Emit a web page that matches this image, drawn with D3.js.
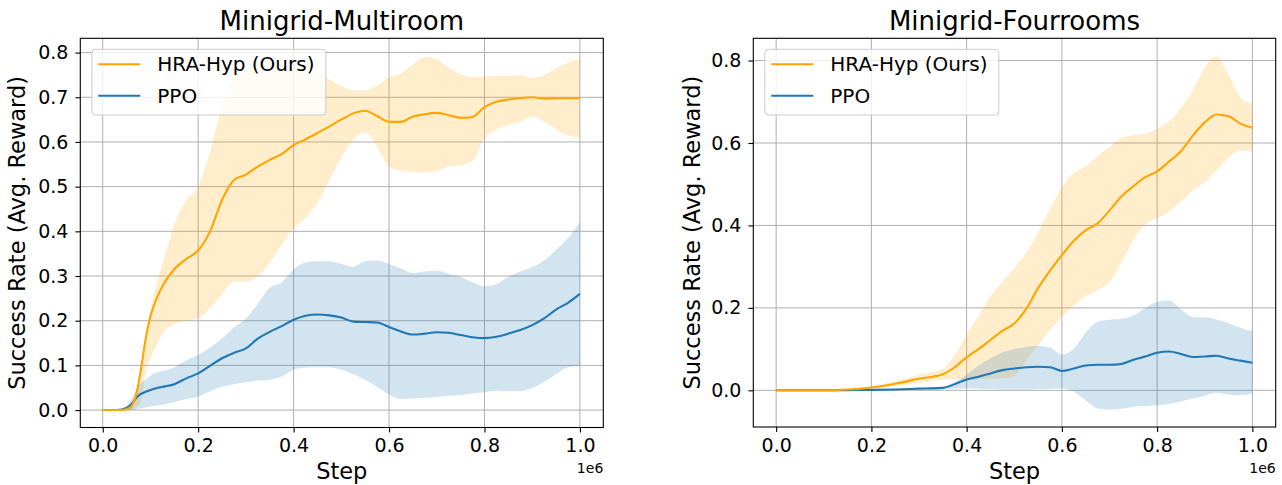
<!DOCTYPE html>
<html>
<head>
<meta charset="utf-8">
<script src="https://cdn.jsdelivr.net/npm/d3@7"></script>
<style>
  html, body { margin: 0; padding: 0; background: #fff; }
  svg { display: block; font-family: 'DejaVu Sans', sans-serif; }
</style>
</head>
<body>
<div id="chart"></div>
<script>
// Minigrid success-rate curves, two panels, mean line + shaded band

// --- Multiroom (left) ---
var stepsMR = [0, 0.03, 0.05, 0.06, 0.07, 0.08, 0.09, 0.1, 0.115, 0.13, 0.15, 0.175, 0.2, 0.225, 0.25, 0.275,
  0.3, 0.325, 0.35, 0.375, 0.4, 0.425, 0.45, 0.475, 0.5, 0.525, 0.55, 0.575, 0.6, 0.625, 0.65, 0.675,
  0.7, 0.725, 0.75, 0.775, 0.8, 0.825, 0.85, 0.875, 0.9, 0.925, 0.95, 0.975, 1.0];
var hraMeanMR = [0, 0, 0.002, 0.008, 0.035, 0.09, 0.16, 0.21, 0.255, 0.286, 0.315, 0.338, 0.357, 0.4, 0.47, 0.515,
  0.527, 0.545, 0.56, 0.573, 0.593, 0.606, 0.62, 0.635, 0.65, 0.664, 0.67, 0.658, 0.645, 0.645, 0.657, 0.662,
  0.665, 0.66, 0.654, 0.656, 0.678, 0.69, 0.695, 0.698, 0.7, 0.697, 0.698, 0.698, 0.698];
var hraHighMR = [0, 0, 0.003, 0.01, 0.037, 0.095, 0.17, 0.225, 0.29, 0.345, 0.415, 0.47, 0.5, 0.58, 0.68, 0.745,
  0.765, 0.768, 0.765, 0.765, 0.765, 0.76, 0.755, 0.74, 0.725, 0.716, 0.716, 0.726, 0.745, 0.754, 0.773, 0.79,
  0.785, 0.766, 0.752, 0.745, 0.746, 0.748, 0.748, 0.75, 0.743, 0.75, 0.765, 0.778, 0.787];
var hraLowMR = [0, 0, 0, 0, 0.005, 0.02, 0.085, 0.115, 0.15, 0.178, 0.193, 0.2, 0.205, 0.228, 0.26, 0.288,
  0.288, 0.3, 0.33, 0.37, 0.407, 0.43, 0.465, 0.515, 0.565, 0.605, 0.622, 0.59, 0.545, 0.535, 0.533, 0.532,
  0.535, 0.545, 0.548, 0.558, 0.608, 0.628, 0.638, 0.645, 0.657, 0.645, 0.628, 0.615, 0.608];
var ppoMeanMR = [0, 0, 0.005, 0.013, 0.027, 0.036, 0.041, 0.045, 0.05, 0.053, 0.058, 0.071, 0.082, 0.099, 0.116, 0.128,
  0.138, 0.16, 0.175, 0.188, 0.202, 0.211, 0.214, 0.212, 0.207, 0.198, 0.197, 0.196, 0.186, 0.176, 0.169, 0.171,
  0.174, 0.173, 0.168, 0.163, 0.161, 0.164, 0.171, 0.179, 0.19, 0.205, 0.225, 0.24, 0.26];
var ppoHighMR = [0, 0, 0.01, 0.025, 0.045, 0.06, 0.068, 0.077, 0.085, 0.088, 0.096, 0.111, 0.123, 0.14, 0.16, 0.185,
  0.205, 0.238, 0.274, 0.285, 0.315, 0.33, 0.333, 0.333, 0.327, 0.321, 0.333, 0.335, 0.327, 0.317, 0.307, 0.31,
  0.312, 0.305, 0.298, 0.286, 0.277, 0.282, 0.298, 0.31, 0.32, 0.335, 0.358, 0.385, 0.42];
var ppoLowMR = [0, 0, 0, 0, 0.002, 0.004, 0.006, 0.008, 0.01, 0.013, 0.018, 0.025, 0.03, 0.042, 0.052, 0.058,
  0.062, 0.066, 0.068, 0.075, 0.09, 0.095, 0.096, 0.096, 0.09, 0.08, 0.068, 0.052, 0.035, 0.025, 0.026, 0.027,
  0.03, 0.032, 0.034, 0.037, 0.04, 0.043, 0.042, 0.042, 0.05, 0.063, 0.08, 0.096, 0.098];

// --- Fourrooms (right) ---
var stepsFR = [0, 0.1, 0.15, 0.2, 0.25, 0.3, 0.35, 0.375, 0.4, 0.425, 0.45, 0.475, 0.5, 0.525, 0.55, 0.575,
  0.6, 0.625, 0.65, 0.675, 0.7, 0.725, 0.75, 0.775, 0.8, 0.825, 0.85, 0.875, 0.9, 0.925, 0.95, 0.975, 1.0];
var hraMeanFR = [0, 0, 0.002, 0.007, 0.016, 0.028, 0.039, 0.056, 0.08, 0.1, 0.122, 0.144, 0.162, 0.197, 0.248, 0.29,
  0.328, 0.363, 0.388, 0.405, 0.436, 0.47, 0.495, 0.517, 0.531, 0.555, 0.58, 0.618, 0.65, 0.669, 0.665, 0.647, 0.637];
var hraHighFR = [0, 0.001, 0.004, 0.009, 0.022, 0.038, 0.052, 0.085, 0.135, 0.18, 0.228, 0.263, 0.296, 0.333, 0.383, 0.44,
  0.492, 0.528, 0.543, 0.568, 0.59, 0.612, 0.619, 0.622, 0.635, 0.652, 0.684, 0.728, 0.783, 0.81, 0.765, 0.71, 0.695];
var hraLowFR = [0, 0, 0.001, 0.004, 0.01, 0.018, 0.026, 0.027, 0.026, 0.027, 0.028, 0.029, 0.035, 0.072, 0.11, 0.146,
  0.177, 0.205, 0.228, 0.244, 0.262, 0.31, 0.365, 0.403, 0.418, 0.434, 0.458, 0.485, 0.505, 0.533, 0.565, 0.582, 0.579];
var ppoMeanFR = [0, 0, 0.0005, 0.001, 0.002, 0.004, 0.006, 0.015, 0.026, 0.033, 0.041, 0.049, 0.053, 0.056, 0.057, 0.056,
  0.047, 0.053, 0.06, 0.062, 0.062, 0.064, 0.074, 0.082, 0.091, 0.094, 0.088, 0.081, 0.082, 0.084, 0.077, 0.072, 0.067];
var ppoHighFR = [0, 0.0005, 0.001, 0.002, 0.003, 0.006, 0.009, 0.02, 0.038, 0.06, 0.078, 0.092, 0.1, 0.105, 0.108, 0.104,
  0.087, 0.1, 0.14, 0.166, 0.171, 0.174, 0.181, 0.2, 0.215, 0.218, 0.196, 0.178, 0.177, 0.172, 0.163, 0.152, 0.143];
var ppoLowFR = [0, 0, 0, 0, 0.001, 0.002, 0.003, 0.004, 0.005, 0.004, 0.003, 0.002, 0.002, 0.002, 0.003, 0.004,
  0.005, -0.003, -0.025, -0.044, -0.047, -0.045, -0.04, -0.038, -0.036, -0.033, -0.027, -0.02, -0.013, -0.006, -0.011, -0.012, -0.008];

var xTicks = [0, 0.2, 0.4, 0.6, 0.8, 1.0];
var yTicksMR = [0, 0.1, 0.2, 0.3, 0.4, 0.5, 0.6, 0.7, 0.8];
var yTicksFR = [0, 0.2, 0.4, 0.6, 0.8];
var seriesNames = ['HRA-Hyp (Ours)', 'PPO'];
var seriesColors = ['#ffa500', '#1f77b4'];

var width = 1282, height = 485;

var svg = d3.select('#chart').append('svg')
  .attr('width', width)
  .attr('height', height);

function zipSeries(steps, mean, lo, hi) {
  return steps.map(function (s, i) { return { x: s, m: mean[i], lo: lo[i], hi: hi[i] }; });
}

function drawPanel(p) {
  var x = d3.scaleLinear().domain(p.xDomain).range([p.left, p.right]);
  var y = d3.scaleLinear().domain(p.yDomain).range([p.bottom, p.top]);
  var g = svg.append('g');

  // grid
  g.append('g').selectAll('line.vx').data(xTicks).join('line')
    .attr('x1', function (d) { return x(d); }).attr('x2', function (d) { return x(d); })
    .attr('y1', p.top).attr('y2', p.bottom)
    .attr('stroke', '#b0b0b0').attr('stroke-width', 1);
  g.append('g').selectAll('line.hy').data(p.yTicks).join('line')
    .attr('x1', p.left).attr('x2', p.right)
    .attr('y1', function (d) { return y(d); }).attr('y2', function (d) { return y(d); })
    .attr('stroke', '#b0b0b0').attr('stroke-width', 1);

  var area = d3.area().curve(d3.curveMonotoneX)
    .x(function (d) { return x(d.x); })
    .y0(function (d) { return y(d.lo); })
    .y1(function (d) { return y(d.hi); });
  var line = d3.line().curve(d3.curveMonotoneX)
    .x(function (d) { return x(d.x); })
    .y(function (d) { return y(d.m); });

  p.series.forEach(function (s, i) {
    g.append('path').datum(s).attr('d', area)
      .attr('fill', seriesColors[i]).attr('fill-opacity', 0.2);
  });
  // PPO line under HRA line
  [1, 0].forEach(function (i) {
    g.append('path').datum(p.series[i]).attr('d', line)
      .attr('fill', 'none').attr('stroke', seriesColors[i]).attr('stroke-width', 2.1)
      .attr('stroke-linejoin', 'round');
  });

  // axes
  var xAxis = d3.axisBottom(x).tickValues(xTicks).tickFormat(d3.format('.1f'))
    .tickSize(4.9).tickSizeOuter(0).tickPadding(6.5);
  var yAxis = d3.axisLeft(y).tickValues(p.yTicks).tickFormat(d3.format('.1f'))
    .tickSize(4.9).tickSizeOuter(0).tickPadding(7);

  var gx = g.append('g').attr('transform', 'translate(0,' + p.bottom + ')').call(xAxis);
  var gy = g.append('g').attr('transform', 'translate(' + p.left + ',0)').call(yAxis);
  [gx, gy].forEach(function (a) {
    a.select('.domain').remove();
    a.selectAll('line').attr('stroke', '#000').attr('stroke-width', 1.1);
    a.selectAll('text').attr('fill', '#000').style('font-size', '19px')
      .style('font-family', "'DejaVu Sans', sans-serif");
  });

  // frame
  g.append('rect')
    .attr('x', p.left).attr('y', p.top)
    .attr('width', p.right - p.left).attr('height', p.bottom - p.top)
    .attr('fill', 'none').attr('stroke', '#000').attr('stroke-width', 1.1);

  var cx = (p.left + p.right) / 2;
  g.append('text').attr('x', cx).attr('y', 29.5).attr('text-anchor', 'middle')
    .style('font-size', '26px').text(p.title);
  g.append('text').attr('x', cx).attr('y', 479).attr('text-anchor', 'middle')
    .style('font-size', '22.5px').text('Step');
  g.append('text').attr('x', p.right).attr('y', 473).attr('text-anchor', 'end')
    .style('font-size', '14px').text('1e6');
  g.append('text')
    .attr('transform', 'translate(' + p.yLabelX + ',' + ((p.top + p.bottom) / 2) + ') rotate(-90)')
    .attr('text-anchor', 'middle')
    .style('font-size', '22.5px').text('Success Rate (Avg. Reward)');

  // legend
  var lg = g.append('g').attr('transform', 'translate(' + (p.left + 11.5) + ',' + (p.top + 11) + ')');
  lg.append('rect').attr('x', 0).attr('y', 0).attr('width', 234).attr('height', 65.7).attr('rx', 3.5)
    .attr('fill', '#fff').attr('fill-opacity', 0.8).attr('stroke', '#cccccc').attr('stroke-width', 1);
  seriesNames.forEach(function (name, i) {
    var yy = 15 + i * 31.4;
    lg.append('line').attr('x1', 6.5).attr('x2', 48.5).attr('y1', yy).attr('y2', yy)
      .attr('stroke', seriesColors[i]).attr('stroke-width', 2.1);
    lg.append('text').attr('x', 65.5).attr('y', yy + 7).style('font-size', '20px')
      .attr('fill', '#000').text(name);
  });
}

drawPanel({
  title: 'Minigrid-Multiroom',
  left: 80.3, right: 603.3, top: 38.3, bottom: 427.5,
  xDomain: [-0.047, 1.049], yDomain: [-0.039, 0.832],
  yTicks: yTicksMR, yLabelX: 25,
  series: [zipSeries(stepsMR, hraMeanMR, hraLowMR, hraHighMR), zipSeries(stepsMR, ppoMeanMR, ppoLowMR, ppoHighMR)]
});

drawPanel({
  title: 'Minigrid-Fourrooms',
  left: 753.3, right: 1275.7, top: 38.3, bottom: 427,
  xDomain: [-0.048, 1.049], yDomain: [-0.089, 0.854],
  yTicks: yTicksFR, yLabelX: 700,
  series: [zipSeries(stepsFR, hraMeanFR, hraLowFR, hraHighFR), zipSeries(stepsFR, ppoMeanFR, ppoLowFR, ppoHighFR)]
});
</script>
</body>
</html>
